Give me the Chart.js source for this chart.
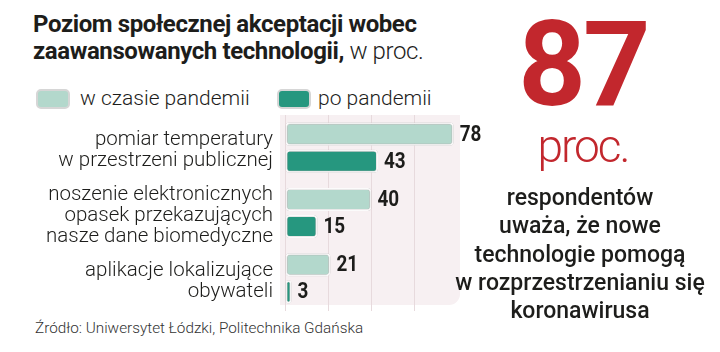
<!DOCTYPE html>
<html>
<head>
<meta charset="utf-8">
<script src="https://cdn.jsdelivr.net/npm/chart.js@4.4.1/dist/chart.umd.min.js"></script>
<style>
  body { margin: 0; background: #fff; font-family: Roboto, sans-serif; color: #1d1d1b; }
  #wrap { position: relative; width: 720px; height: 352px; overflow: hidden; }
  .abs { position: absolute; white-space: nowrap; }
  #title { left: 33px; top: 11px; font-size: 24px; line-height: 27px; font-weight: 700; letter-spacing: -0.4px; }
  #title span { font-weight: 300; }
  .lg-box { position: absolute; width: 34px; height: 20px; border-radius: 5px; box-sizing: border-box; border: 2px solid #d6d6d6; }
  .lg-txt { font-size: 21px; font-weight: 300; top: 86px; }
  #big { left: 470px; width: 226px; text-align: center; top: 0px; font-size: 118px; font-weight: 700; color: #c2272d; letter-spacing: -3px; line-height: 130px; }
  #proc { left: 470px; width: 226px; text-align: center; top: 121px; font-size: 46px; font-weight: 300; color: #c2272d; letter-spacing: -2px; line-height: 50px; }
  #note { left: 440px; width: 280px; text-align: center; top: 184px; font-size: 23px; font-weight: 500; line-height: 28.3px; }
  #src { left: 35px; top: 319px; font-size: 15.3px; font-weight: 300; color: #333; }
  #cv { position: absolute; left: 0; top: 115px; }
</style>
</head>
<body>
<div id="wrap">
  <canvas id="cv" width="500" height="196"></canvas>

  <div id="title" class="abs">Poziom społecznej akceptacji wobec<br>zaawansowanych technologii, <span>w proc.</span></div>
  <div class="lg-box" style="left:36px; top:89px; background:#b3d8cc;"></div>
  <div class="lg-txt abs" style="left:80px;">w czasie pandemii</div>
  <div class="lg-box" style="left:277px; top:89px; background:#26977f;"></div>
  <div class="lg-txt abs" style="left:318px;">po pandemii</div>

  <div id="big" class="abs">87</div>
  <div id="proc" class="abs">proc.</div>
  <div id="note" class="abs">respondentów<br>uważa, że nowe<br>technologie pomogą<br>w rozprzestrzenianiu się<br>koronawirusa</div>

  <div id="src" class="abs">Źródło: Uniwersytet Łódzki, Politechnika Gdańska</div>
</div>
<script>
// data
const categories = [
  ['pomiar temperatury', 'w przestrzeni publicznej'],
  ['noszenie elektronicznych', 'opasek przekazujących', 'nasze dane biomedyczne'],
  ['aplikacje lokalizujące', 'obywateli']
];
const duringPandemic = [78, 40, 21];
const afterPandemic = [43, 15, 3];
const seriesNames = ['w czasie pandemii', 'po pandemii'];

// pink panel behind the bars
const panelPlugin = {
  id: 'panel',
  beforeDraw(chart) {
    const { ctx, chartArea, scales } = chart;
    const l = scales.x.getPixelForValue(0) - 5;
    const r = scales.x.getPixelForValue(80) + 2;
    const t = chartArea.top;
    const b = chartArea.bottom - 6;
    ctx.save();
    ctx.fillStyle = '#f7f0f2';
    ctx.beginPath();
    ctx.roundRect(l, t, r - l, b - t, [0, 0, 11, 0]);
    ctx.fill();
    ctx.restore();
  }
};

// light shadow round the bars
const shadowPlugin = {
  id: 'barShadow',
  beforeDatasetsDraw(chart) {
    const ctx = chart.ctx;
    ctx.save();
    ctx.shadowColor = 'rgba(0,0,0,0.35)';
    ctx.shadowBlur = 2;
  },
  afterDatasetsDraw(chart) {
    chart.ctx.restore();
  }
};

// numbers at bar ends
const valuePlugin = {
  id: 'values',
  afterDatasetsDraw(chart) {
    const ctx = chart.ctx;
    ctx.save();
    ctx.font = 'bold 22px Roboto';
    ctx.fillStyle = '#1d1d1b';
    ctx.textBaseline = 'middle';
    ctx.textAlign = 'left';
    chart.data.datasets.forEach((ds, i) => {
      chart.getDatasetMeta(i).data.forEach((bar, j) => {
        ctx.save();
        ctx.translate(bar.x + 6, bar.y + 1);
        ctx.scale(0.86, 1);
        ctx.fillText(ds.data[j], 0, 0);
        ctx.restore();
      });
    });
    ctx.restore();
  }
};

new Chart(document.getElementById('cv'), {
  type: 'bar',
  data: {
    labels: categories,
    datasets: [
      { label: seriesNames[0], data: duringPandemic, backgroundColor: '#b3d8cc' },
      { label: seriesNames[1], data: afterPandemic, backgroundColor: '#26977f' }
    ]
  },
  options: {
    indexAxis: 'y',
    responsive: false,
    animation: false,
    layout: { padding: { left: 0, right: 42, top: 0, bottom: 0 } },
    datasets: {
      bar: {
        categoryPercentage: 0.83,
        barPercentage: 0.85,
        borderRadius: 4,
        borderSkipped: false,
        borderWidth: 2,
        borderColor: '#ffffff'
      }
    },
    plugins: {
      legend: { display: false },
      tooltip: { enabled: false }
    },
    scales: {
      x: {
        min: 0,
        max: 80,
        ticks: { display: false, stepSize: 20 },
        grid: {
          drawTicks: false,
          color: ctx => (ctx.tick && ctx.tick.value === 80) ? 'rgba(0,0,0,0)' : '#e7dadd',
          lineWidth: 1
        },
        border: { display: false }
      },
      y: {
        afterFit(scale) {
          scale.width = 285;
          scale.paddingTop = 0;
          scale.paddingBottom = 0;
        },
        ticks: {
          autoSkip: false,
          padding: 12,
          labelOffset: 3,
          color: '#1d1d1b',
          font: { family: 'Roboto', size: 20.5, weight: 300, lineHeight: 1.03 }
        },
        grid: { display: false, drawTicks: false },
        border: { display: false }
      }
    }
  },
  plugins: [panelPlugin, shadowPlugin, valuePlugin]
});
</script>
</body>
</html>
